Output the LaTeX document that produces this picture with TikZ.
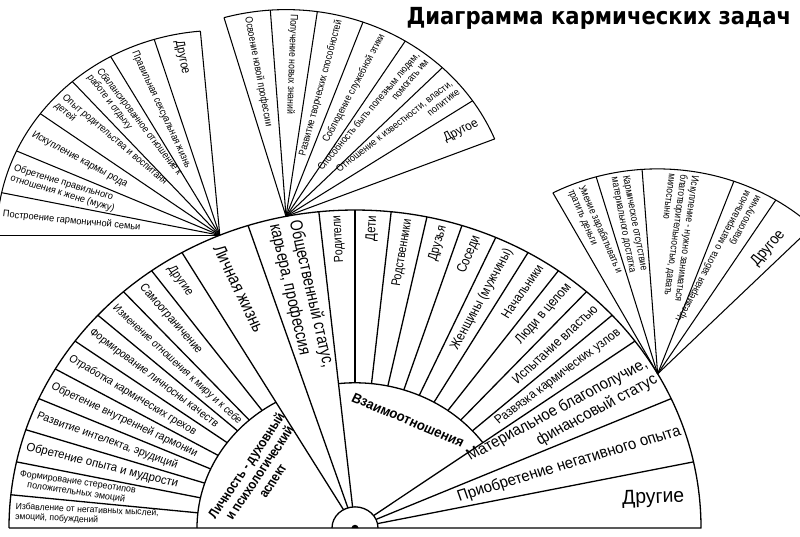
\documentclass[tikz,border=0pt]{standalone}
\usepackage{fontspec}
\setmainfont{Liberation Sans}[FakeStretch=0.88]
\newfontfamily\titlefont{DejaVu Sans}[FakeStretch=0.9]
\newcommand\fz[2]{\fontsize{#1}{#2}\selectfont}
\tikzset{
  fanline/.style={line width=1.3pt, line join=round},
  subline/.style={line width=1.05pt, line join=round},
  lab/.style={inner sep=0pt, outer sep=0pt},
  big/.style={lab, font=\bfseries\fz{14}{15.5}},
}
\begin{document}
\begin{tikzpicture}[x=1pt,y=1pt]
\useasboundingbox (0,0) rectangle (800,536);
\clip (0,0) rectangle (800,536);
\node[lab, anchor=base east] (title) at (791,511) {\titlefont\bfseries\fz{23.5}{26}Диаграмма кармических задач};

\begin{scope}[shift={(355,8)}, yscale=0.919, transform shape]
  \coordinate (M) at (0,0);
  % main fan
  \draw[fanline] (180:346) -- (0:346) arc[start angle=0, end angle=180, radius=346];
  \draw[fanline] (0:23) arc[start angle=0, end angle=180, radius=23];
  \fill (3.5,0) arc[start angle=0, end angle=180, radius=3.5] -- cycle;
  \draw[fanline] (180:158) arc[start angle=180, end angle=120, radius=158];
  \draw[fanline] (96:158) arc[start angle=96, end angle=36, radius=158];
  \foreach \a in {120,108,96,36,24,12} \draw[fanline] (\a:23) -- (\a:346);
  \foreach \a in {126,132,...,174} \draw[fanline] (\a:158) -- (\a:346);
  \foreach \a in {42,48,...,90} \draw[fanline] (\a:158) -- (\a:346);

  % Личность ring
  \node[lab, anchor=west, rotate=-3, align=left, font=\fz{9.8}{10.8}] (l1) at (177:340) {Избавление от негативных мыслей,\\эмоций, побуждений};
  \node[lab, anchor=west, rotate=-9, align=center, font=\fz{10.2}{11.2}] (l2) at (171:340) {Формирование стереотипов\\положительных эмоций};
  \node[lab, anchor=west, rotate=-15, font=\fz{13}{14}] (l3) at (165:340) {Обретение опыта и мудрости};
  \node[lab, anchor=west, rotate=-21, font=\fz{12}{13}] (l4) at (159:340) {Развитие интелекта, эрудиций};
  \node[lab, anchor=west, rotate=-27, font=\fz{12}{13}] (l5) at (153:340) {Обретение внутренней гармонии};
  \node[lab, anchor=west, rotate=-33, font=\fz{11.8}{12.5}] (l6) at (147:340) {Отработка кармических грехов};
  \node[lab, anchor=west, rotate=-39, font=\fz{11.8}{12.5}] (l7) at (141:340) {Формирование личносны качеств};
  \node[lab, anchor=west, rotate=-45, font=\fz{11.3}{12}] (l8) at (135:340) {Изменение отношения к миру и к себе};
  \node[lab, anchor=west, rotate=-51, font=\fz{12.5}{13}] (l9) at (129:339) {Самоограничение};
  \node[lab, anchor=west, rotate=-57, font=\fz{13}{14}] (l10) at (123:339) {Другие};

  \node[lab, anchor=west, rotate=-66, font=\fz{18}{20}] (lj) at (114:336) {Личная жизнь};
  \node[lab, anchor=west, rotate=-78, align=left, font=\fz{17.5}{20}] (os) at (102:340) {Общественный статус,\\карьера, профессия};

  % Взаимоотношения ring
  \node[lab, anchor=east, rotate=93, font=\fz{13}{14}] (r1) at (93:340) {Родители};
  \node[lab, anchor=east, rotate=87, font=\fz{14}{15}] (r2) at (87:340) {Дети};
  \node[lab, anchor=east, rotate=81, font=\fz{13}{14}] (r3) at (81:340) {Родственники};
  \node[lab, anchor=east, rotate=75, font=\fz{13.5}{14}] (r4) at (75:340) {Друзья};
  \node[lab, anchor=east, rotate=69, font=\fz{14}{15}] (r5) at (69:340) {Соседи};
  \node[lab, anchor=east, rotate=63, font=\fz{14}{15}] (r6) at (63:340) {Женщины (мужчины)};
  \node[lab, anchor=east, rotate=57, font=\fz{13.5}{14}] (r7) at (57:340) {Начальники};
  \node[lab, anchor=east, rotate=51, font=\fz{14}{15}] (r8) at (51:340) {Люди в целом};
  \node[lab, anchor=east, rotate=45, font=\fz{14}{15}] (r9) at (45:340) {Испытание властью};
  \node[lab, anchor=east, rotate=39, font=\fz{13.5}{14}] (r10) at (39:340) {Развязка кармических узлов};

  \node[lab, anchor=east, rotate=30, align=right, font=\fz{17}{20}] (mb) at (30:342) {Материальное благополучие,\\финансовый статус};
  \node[lab, anchor=east, rotate=18, font=\fz{17}{19}] (pn) at (18:342) {Приобретение негативного опыта};
  \node[lab, rotate=2, font=\fz{22}{24}] (dr) at (6.2:300) {Другие};

  \node[big, rotate=58, align=center] (lich) at (148:113) {Личность - духовный\\и психологический\\аспект};
  \node[big, rotate=-24.3, font=\bfseries\fz{15}{16}] (vz) at (65.7:129) {Взаимоотношения};

  % top-left sub-fan
  \begin{scope}[shift={(113:346)}]
    \coordinate (P1) at (0,0);
    \foreach \a in {180,168,155.7,143.6,131.4,119.3,107.1,95} \draw[subline] (0,0) -- (\a:223);
    \draw[subline] (95:223) arc[start angle=95, end angle=180, radius=223];
    \node[lab, anchor=west, rotate=-6, font=\fz{10.5}{11.5}] (a1) at (174:218) {Построение гармоничной семьи};
    \node[lab, anchor=west, rotate=-18, align=left, font=\fz{10.5}{11.5}] (a2) at (162:218) {Обретение правильного\\отношения к жене (мужу)};
    \node[lab, anchor=west, rotate=-30.4, font=\fz{11}{12}] (a3) at (149.6:217) {Искупление кармы рода};
    \node[lab, anchor=west, rotate=-42.5, align=left, font=\fz{10.5}{11.5}] (a4) at (137.5:217) {Опыт родительства и воспитаня\\детей};
    \node[lab, anchor=west, rotate=-54.6, align=left, font=\fz{10.5}{11.5}] (a5) at (125.4:217) {Сбалансированное отношение к\\работе и отдыху};
    \node[lab, anchor=west, rotate=-66.8, font=\fz{10.5}{11.5}] (a6) at (113.2:217) {Правильная сексуальная жизнь};
    \node[lab, anchor=west, rotate=-79, font=\fz{13}{14}] (a7) at (101:215) {Другое};
  \end{scope}

  % top-centre sub-fan
  \begin{scope}[shift={(101.5:346)}]
    \coordinate (P2) at (0,0);
    \foreach \a in {106,94,82,70,58,46,34,22} \draw[subline] (0,0) -- (\a:225);
    \draw[subline] (22:225) arc[start angle=22, end angle=106, radius=225];
    \node[lab, anchor=west, rotate=-80, font=\fz{10.5}{11.5}] (b1) at (100:220) {Освоение новой профессии};
    \node[lab, anchor=west, rotate=-92, font=\fz{10.5}{11.5}] (b2) at (88:220) {Получение новых знаний};
    \node[lab, anchor=east, rotate=76, font=\fz{10.5}{11.5}] (b3) at (76:220) {Развитие творческих способностей};
    \node[lab, anchor=east, rotate=64, font=\fz{10.5}{11.5}] (b4) at (64:220) {Соблюдение служебной этики};
    \node[lab, anchor=east, rotate=52, align=right, font=\fz{10.5}{11.5}] (b5) at (52:220) {Способность быть полезным людям,\\помогать им};
    \node[lab, anchor=east, rotate=40, align=right, font=\fz{10.5}{11.5}] (b6) at (40:220) {Отношение к известности, власти,\\политике};
    \node[lab, anchor=east, rotate=28, font=\fz{13.5}{14}] (b7) at (28:217) {Другое};
  \end{scope}

  % right sub-fan
  \begin{scope}[shift={(29:346)}]
    \coordinate (P3) at (0,0);
    \foreach \a in {118,106,94,70,58,46} \draw[subline] (0,0) -- (\a:223);
    \draw[subline] (46:223) arc[start angle=46, end angle=118, radius=223];
    \node[lab, anchor=west, rotate=-68, align=left, font=\fz{10.5}{11.5}] (c1) at (112:218) {Умение зарабатывать и\\тратить деньги};
    \node[lab, anchor=west, rotate=-80, align=left, font=\fz{10.5}{11.5}] (c2) at (100:218) {Кармическое отсутствие\\материального достатка};
    \node[lab, anchor=west, rotate=-97, align=left, font=\fz{10.5}{11.5}] (c3) at (83:218) {Искупление - нужно заниматься\\благотворительностью, давать\\милостыню};
    \node[lab, anchor=east, rotate=64, align=right, font=\fz{10.5}{11.5}] (c4) at (64:218) {Чрезмерная забота о материальном\\благополучии};
    \node[lab, anchor=east, rotate=51, font=\fz{16}{17}] (c5) at (51:198) {Другое};
  \end{scope}
\end{scope}
\end{tikzpicture}
\end{document}
